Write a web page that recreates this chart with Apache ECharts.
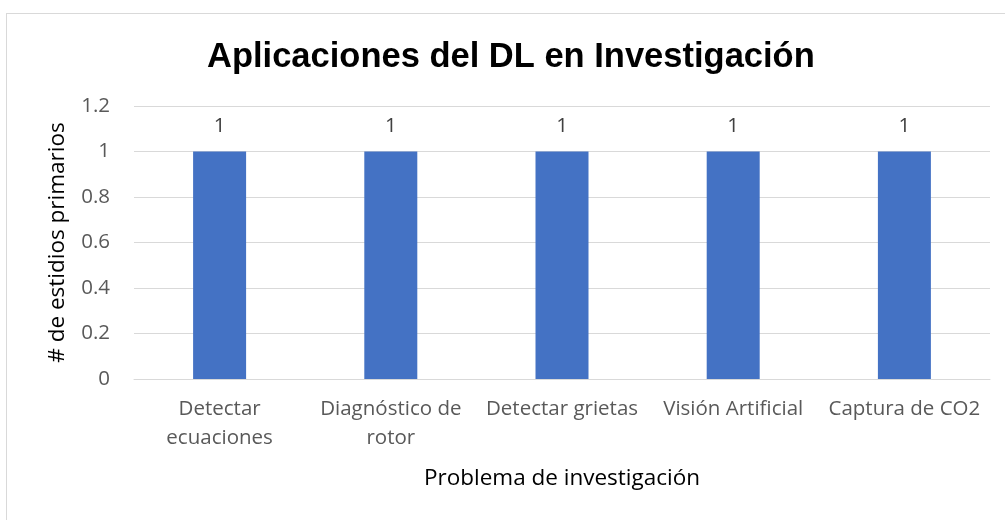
<!DOCTYPE html>
<html>
<head>
<meta charset="utf-8">
<script src="https://cdn.jsdelivr.net/npm/echarts@6/dist/echarts.min.js"></script>
<style>
  html, body { margin: 0; padding: 0; background: #fff; }
  #frame { position: absolute; left: 6px; top: 13px; width: 1010px; height: 520px;
           border-top: 1px solid #d9d9d9; border-left: 1px solid #d9d9d9; box-sizing: border-box; }
  #chart { position: absolute; left: 0; top: 0; width: 1005px; height: 520px; }
</style>
</head>
<body>
<div id="frame"></div>
<div id="chart"></div>
<script>
// datos del gráfico
const categories = ['Detectar\necuaciones', 'Diagnóstico de\nrotor', 'Detectar grietas', 'Visión Artificial', 'Captura de CO2'];
const estudios = [1, 1, 1, 1, 1];
const yTicks = [0, 0.2, 0.4, 0.6, 0.8, 1, 1.2];

const myChart = echarts.init(document.getElementById('chart'));
const option = {
  animation: false,
  title: {
    text: 'Aplicaciones del DL en Investigación',
    left: 207,
    top: 40,
    padding: 0,
    textStyle: { fontFamily: 'Liberation Sans', fontWeight: 'bold', fontSize: 34.5, color: '#000' }
  },
  grid: { left: 134, right: 15, top: 106, bottom: 141 },
  xAxis: {
    type: 'category',
    data: categories,
    name: 'Problema de investigación',
    nameLocation: 'middle',
    nameGap: 88,
    nameTextStyle: { fontFamily: 'Open Sans', fontSize: 22.5, color: '#000' },
    axisLine: { lineStyle: { color: '#d9d9d9', width: 1 } },
    axisTick: { show: false },
    axisLabel: { fontFamily: 'Open Sans', fontSize: 20.5, color: '#595959', lineHeight: 29, margin: 16, interval: 0 }
  },
  yAxis: {
    type: 'value',
    min: yTicks[0],
    max: yTicks[yTicks.length - 1],
    interval: 0.2,
    name: '# de estidios primarios',
    nameLocation: 'middle',
    nameGap: 65,
    nameTextStyle: { fontFamily: 'Open Sans', fontSize: 22.5, color: '#000' },
    axisLine: { show: false },
    axisTick: { show: false },
    axisLabel: {
      fontFamily: 'Open Sans', fontSize: 20.5, color: '#595959', margin: 24,
      formatter: v => String(Math.round(v * 10) / 10)
    },
    splitLine: { lineStyle: { color: '#d9d9d9', width: 1 } }
  },
  series: [{
    type: 'bar',
    data: estudios,
    barWidth: 53,
    itemStyle: { color: '#4472c4' },
    label: {
      show: true,
      position: 'top',
      distance: 15,
      fontFamily: 'Open Sans',
      fontSize: 20.5,
      color: '#404040'
    }
  }]
};
myChart.setOption(option);
</script>
</body>
</html>
